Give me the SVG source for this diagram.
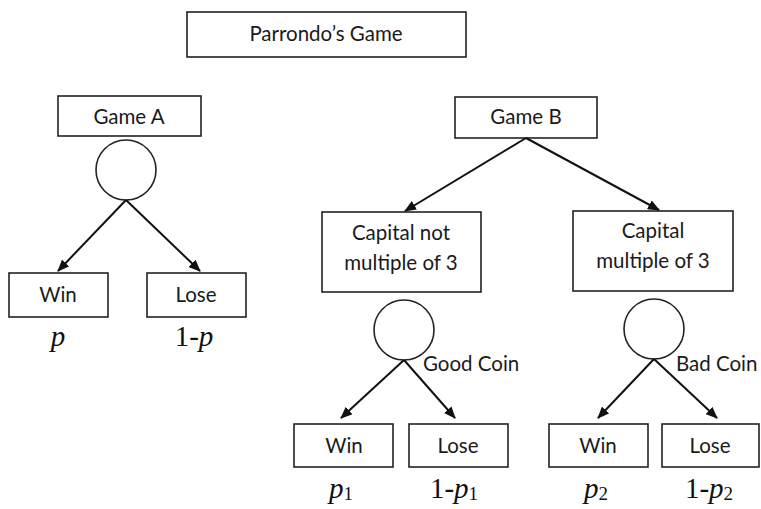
<svg xmlns="http://www.w3.org/2000/svg" width="761" height="509" viewBox="0 0 761 509">
<defs>
<marker id="arr" markerWidth="12" markerHeight="10" refX="11" refY="5" orient="auto" markerUnits="userSpaceOnUse">
<path d="M0,0 L12,5 L0,10 Z" fill="#111"/>
</marker>
<style>
.box{fill:#fff;stroke:#222;stroke-width:1.6}
.circ{fill:#fff;stroke:#222;stroke-width:1.6}
.t{font-family:Lato,"Liberation Sans",sans-serif;font-size:20.5px;fill:#1a1a1a;text-anchor:middle}
.lab{font-family:Lato,"Liberation Sans",sans-serif;font-size:20.5px;fill:#1a1a1a}
.m{font-family:"Liberation Serif","DejaVu Serif",serif;font-size:29px;fill:#111;text-anchor:middle}
.mi{font-style:italic}
.sub{font-size:19px}
.c{stroke:#111;stroke-width:2;fill:none}
</style>
</defs>
<rect width="761" height="509" fill="#fff"/>
<g id="title"><rect class="box" x="187" y="12" width="279" height="45"/><text class="t" x="326" y="41">Parrondo’s Game</text></g>
<g id="gameA"><rect class="box" x="58" y="96" width="143" height="40"/><text class="t" x="129" y="124">Game A</text></g>
<g id="coinA"><circle class="circ" cx="126" cy="170" r="30"/></g>
<g id="winA"><rect class="box" x="9" y="273" width="99" height="44"/><text class="t" x="58" y="302">Win</text><text class="m" x="58" y="346"><tspan class="mi">p</tspan></text></g>
<g id="loseA"><rect class="box" x="147" y="273" width="99" height="44"/><text class="t" x="196" y="302">Lose</text><text class="m" x="194" y="346">1-<tspan class="mi">p</tspan></text></g>
<g id="gameB"><rect class="box" x="455" y="97" width="142" height="41"/><text class="t" x="526" y="124">Game B</text></g>
<g id="capNot"><rect class="box" x="322" y="212" width="159" height="80"/><text class="t" x="401" y="240">Capital not</text><text class="t" x="401" y="270">multiple of 3</text></g>
<g id="cap3"><rect class="box" x="573" y="211" width="160" height="80"/><text class="t" x="653" y="238">Capital</text><text class="t" x="653" y="268">multiple of 3</text></g>
<g id="coinGood"><circle class="circ" cx="404" cy="330" r="30"/><text class="lab" x="423" y="371">Good Coin</text></g>
<g id="coinBad"><circle class="circ" cx="654" cy="329" r="30"/><text class="lab" x="676" y="371">Bad Coin</text></g>
<g id="win1"><rect class="box" x="294" y="424" width="99" height="43"/><text class="t" x="344" y="453">Win</text><text class="m" x="341" y="498"><tspan class="mi">p</tspan><tspan class="sub" dy="2">1</tspan></text></g>
<g id="lose1"><rect class="box" x="409" y="424" width="99" height="43"/><text class="t" x="458" y="453">Lose</text><text class="m" x="454" y="498">1-<tspan class="mi">p</tspan><tspan class="sub" dy="2">1</tspan></text></g>
<g id="win2"><rect class="box" x="549" y="424" width="99" height="43"/><text class="t" x="598" y="453">Win</text><text class="m" x="596" y="498"><tspan class="mi">p</tspan><tspan class="sub" dy="2">2</tspan></text></g>
<g id="lose2"><rect class="box" x="662" y="424" width="97" height="43"/><text class="t" x="710" y="453">Lose</text><text class="m" x="709" y="498">1-<tspan class="mi">p</tspan><tspan class="sub" dy="2">2</tspan></text></g>
<g id="connectors">
<line class="c" x1="126" y1="200" x2="58" y2="271" marker-end="url(#arr)"/>
<line class="c" x1="126" y1="200" x2="200" y2="271" marker-end="url(#arr)"/>
<line class="c" x1="526" y1="138" x2="405" y2="211" marker-end="url(#arr)"/>
<line class="c" x1="526" y1="138" x2="659" y2="210" marker-end="url(#arr)"/>
<line class="c" x1="404" y1="360" x2="341" y2="418" marker-end="url(#arr)"/>
<line class="c" x1="404" y1="360" x2="455" y2="418" marker-end="url(#arr)"/>
<line class="c" x1="654" y1="359" x2="598" y2="418" marker-end="url(#arr)"/>
<line class="c" x1="654" y1="359" x2="717" y2="418" marker-end="url(#arr)"/>
</g>
</svg>
